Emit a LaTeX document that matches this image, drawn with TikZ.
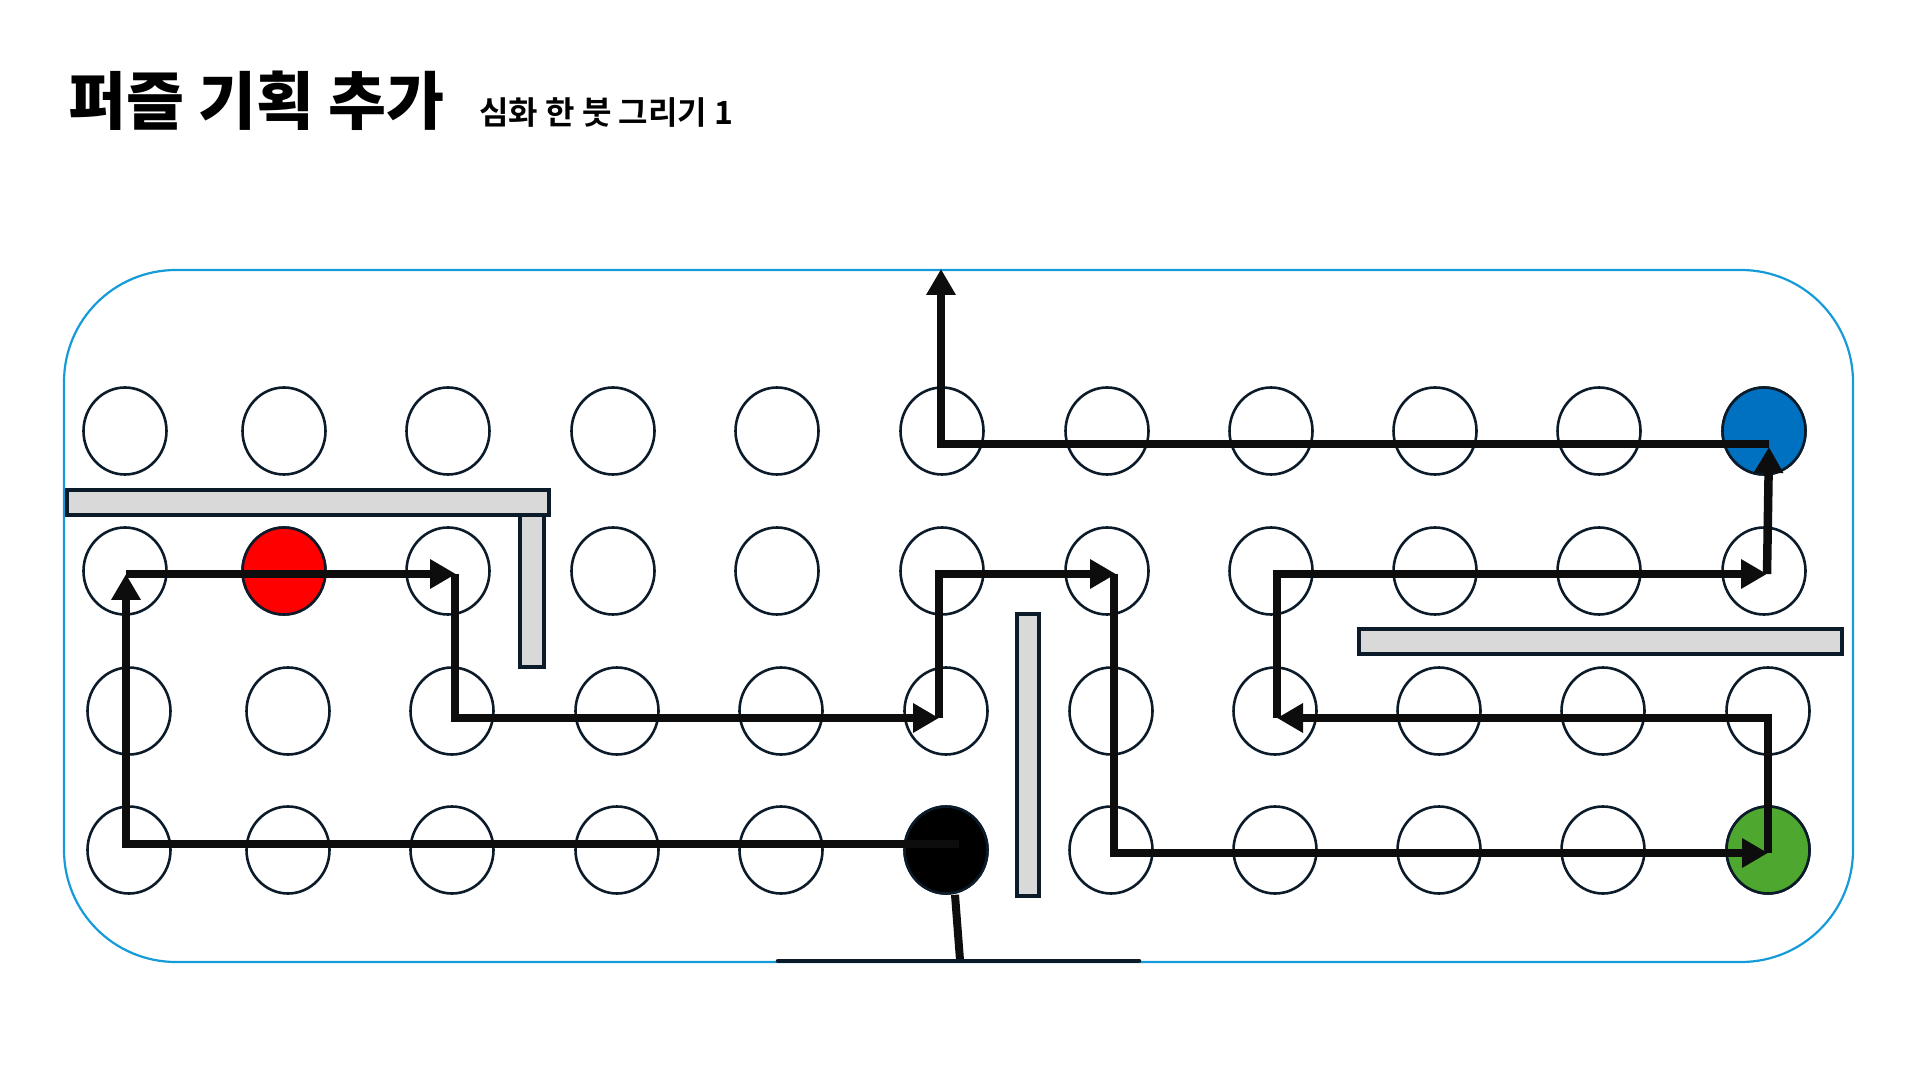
\documentclass[tikz,border=0pt]{standalone}
\usepackage{fontspec}
\usetikzlibrary{arrows.meta,shapes.geometric}
\IfFontExistsTF{Noto Sans CJK KR Black}
  {\newfontfamily\krheavy{Noto Sans CJK KR Black}}
  {\newfontfamily\krheavy{Noto Sans CJK KR Bold}}
\newfontfamily\krfont{Noto Sans CJK KR Bold}
\definecolor{PuzzleFrame}{HTML}{159BD7}
\definecolor{PuzzleInk}{HTML}{0C1B2A}
\definecolor{PuzzleWall}{HTML}{D9D9D9}
\definecolor{PuzzlePath}{HTML}{0D0D0D}
\definecolor{PuzzleRed}{HTML}{FF0000}
\definecolor{PuzzleBlue}{HTML}{0070C0}
\definecolor{PuzzleGreen}{HTML}{4EA72E}

\begin{document}
\begin{tikzpicture}[x=1pt,y=1pt,>=Latex]
\tikzset{
  dot/.style={ellipse,draw=PuzzleInk,line width=2.6pt,inner sep=0pt,
              minimum width=83pt,minimum height=87pt},
  wall/.style={draw=PuzzleInk,line width=3.4pt,fill=PuzzleWall},
  board/.style={draw=PuzzleFrame,line width=2.2pt,rounded corners=112pt},
  trail/.style={PuzzlePath,line width=8.5pt,line join=miter,
                -{Triangle[length=26pt,width=28pt]}},
  stem/.style={PuzzlePath,line width=8pt},
  plinth/.style={PuzzleInk,line width=4.5pt,line cap=round},
  headline/.style={font=\krheavy\fontsize{63}{63}\selectfont,inner sep=0pt},
  subline/.style={font=\krfont\fontsize{32}{32}\selectfont,inner sep=0pt}
}
\useasboundingbox (0,0) rectangle (1921,1080);

% ---------- title ---------------------------------------------------------
\node[headline,anchor=base west] (head) at (68,955) {퍼즐 기획 추가};
\node[subline,anchor=base west] (sub) at (479,955) {심화 한 붓 그리기 1};

% ---------- board ---------------------------------------------------------
\draw[board] (64,118) rectangle (1853,810);

% ---------- dots: 11 columns, 4 rows ----------------------------------------
\foreach \col/\xa in {1/125,2/284,3/448,4/613,5/777,6/942,7/1107,8/1271,9/1435,10/1599,11/1764}{
  \node[dot] (d\col-1) at (\xa,649) {};
  \node[dot] (d\col-2) at (\xa,509) {};
  \node[dot] (d\col-3) at (\xa+4,369) {};
  \node[dot] (d\col-4) at (\xa+4,230) {};
}
\node[dot,fill=PuzzleRed]   (red)   at (d2-2.center)  {};
\node[dot,fill=PuzzleBlue]  (blue)  at (d11-1.center) {};
\node[dot,fill=black]       (black) at (d6-4.center)  {};
\node[dot,fill=PuzzleGreen] (green) at (d11-4.center) {};

% ---------- walls ---------------------------------------------------------
\draw[wall] (67,565) rectangle (549,590);
\draw[wall] (520,413) rectangle (544,565);
\draw[wall] (1017,184) rectangle (1039,466);
\draw[wall] (1359,426) rectangle (1842,451);

% ---------- the one-stroke route ------------------------------------------
\coordinate (s0) at (959,236);
\coordinate (a2) at (126,506);
\coordinate (b2) at (456,506);
\coordinate (c3) at (939,362);
\coordinate (d2) at (1116,506);
\coordinate (e4) at (1768,227);
\coordinate (f3) at (1277,362);
\coordinate (g2) at (1767,506);
\coordinate (h1) at (1769,636);
\coordinate (exit) at (941,811);

\draw[trail] (s0) -| (a2);
\draw[trail] (a2) -- (b2);
\draw[trail] ([xshift=-1pt]b2) |- (c3);
\draw[trail] (c3) |- (d2);
\draw[trail] ([xshift=-2pt]d2) |- (e4);
\draw[trail] (e4) |- (f3);
\draw[trail] (f3) |- (g2);
\draw[trail] (g2) -- ([yshift=-3pt]h1);
\draw[trail] (h1) -| (exit);

% ---------- exit post under the black dot --------------------------------
\coordinate (foot) at (960,120);
\draw[stem] ([xshift=9pt]black.south) -- (foot);
\draw[plinth] (778,119) -- (1139,119);
\end{tikzpicture}
\end{document}
